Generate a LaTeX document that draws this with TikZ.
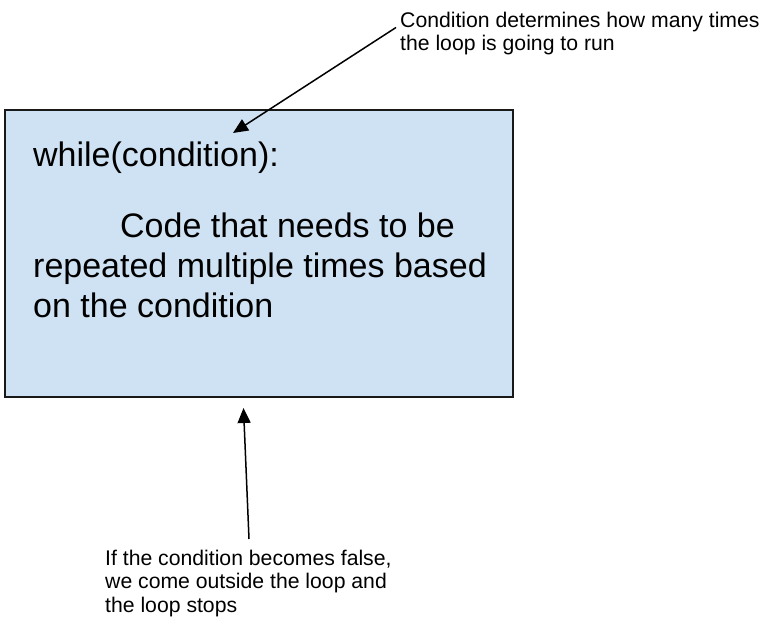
\documentclass[tikz,border=0pt]{standalone}
\usepackage{fontspec}
\setmainfont{Liberation Sans}
\usetikzlibrary{arrows.meta}
\definecolor{boxblue}{HTML}{CFE2F3}
\tikzset{
  loopbox/.style={draw=black!90, line width=1.8pt, fill=boxblue, minimum width=508pt, minimum height=287pt, inner sep=0pt},
  bigtext/.style={inner sep=0pt, anchor=base west, font=\fontsize{34}{40}\selectfont},
  note/.style={inner sep=0pt, anchor=north west, align=left, font=\fontsize{21.2}{23.5}\selectfont},
  arr/.style={line width=1.5pt, -{Triangle[length=15pt,width=13pt]}}
}
\begin{document}
\begin{tikzpicture}[x=1pt,y=-1pt]
\useasboundingbox (0,0) rectangle (764,620);
\node[loopbox] (box) at (259,253.5) {};
\node[bigtext] (while) at (33,167) {while(condition):};
\node[bigtext] (code1) at (120,238) {Code that needs to be};
\node[bigtext] (code2) at (33,278) {repeated multiple times based};
\node[bigtext] (code3) at (33,318) {on the condition};
\node[note] (top) at (400,11.5) {Condition determines how many times\\the loop is going to run};
\node[note] (bottom) at (105,549.5) {If the condition becomes false,\\we come outside the loop and\\the loop stops};
\coordinate (topstart) at (396,27.5);
\coordinate (toptip) at (233,133);
\coordinate (botstart) at (249,539);
\coordinate (bottip) at (243.5,408);
\draw[arr] (topstart) -- (toptip);
\draw[arr] (botstart) -- (bottip);
\end{tikzpicture}
\end{document}
